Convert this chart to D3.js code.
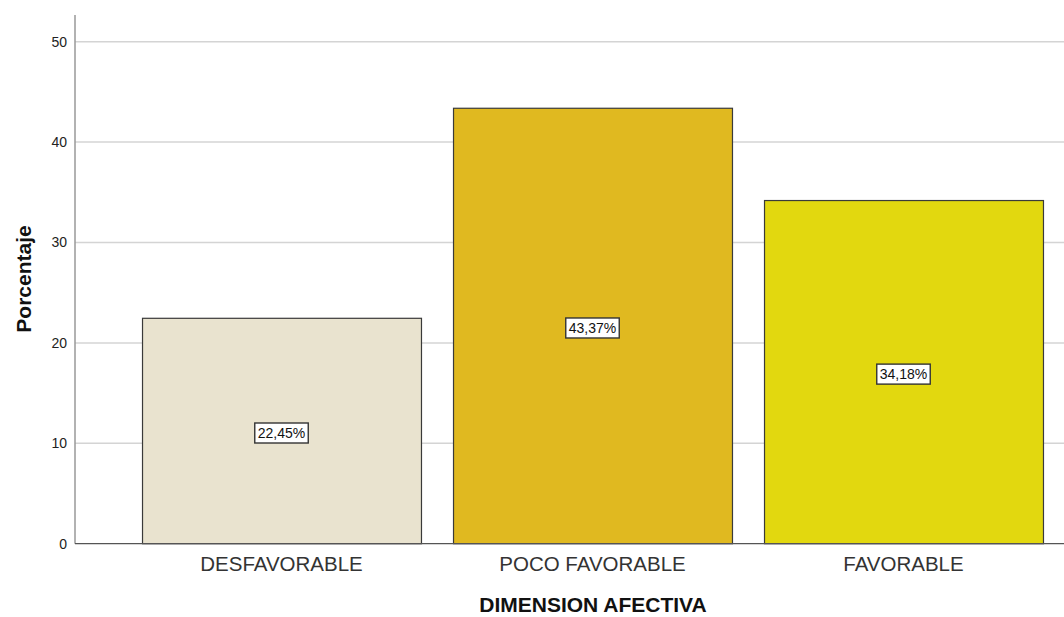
<!DOCTYPE html>
<html>
<head>
<meta charset="utf-8">
<script src="https://cdn.jsdelivr.net/npm/d3@7"></script>
<style>
  html, body { margin: 0; padding: 0; background: #fff; }
  svg { display: block; font-family: "Liberation Sans", Arial, sans-serif; }
</style>
</head>
<body>
<svg id="chart" width="1064" height="617"></svg>
<script>
// Categories and percentages
const categories = ["DESFAVORABLE", "POCO FAVORABLE", "FAVORABLE"];
const percentages = [22.45, 43.37, 34.18];
const barColors = ["#E9E3CF", "#E0B920", "#E2D80F"];
const yTicks = [0, 10, 20, 30, 40, 50];
const xTitle = "DIMENSION AFECTIVA";
const yTitle = "Porcentaje";

const svg = d3.select("#chart");

const x = d3.scaleBand()
  .domain(categories)
  .range([75, 1110])
  .paddingInner(0.103)
  .paddingOuter(0.2155);

const y = d3.scaleLinear()
  .domain([0, 50])
  .range([543.7, 41.7]);

// Horizontal gridlines
svg.append("g")
  .selectAll("line")
  .data(yTicks.filter(d => d > 0))
  .join("line")
  .attr("x1", 75).attr("x2", 1064)
  .attr("y1", d => y(d)).attr("y2", d => y(d))
  .attr("stroke", "#d4d4d4")
  .attr("stroke-width", 1.5);

// Bars
svg.append("g")
  .selectAll("rect")
  .data(categories)
  .join("rect")
  .attr("x", d => x(d) + 0.5)
  .attr("y", (d, i) => y(percentages[i]))
  .attr("width", x.bandwidth())
  .attr("height", (d, i) => y(0) - y(percentages[i]))
  .attr("fill", (d, i) => barColors[i])
  .attr("stroke", "#3a3a3a")
  .attr("stroke-width", 1.2);

// Y axis
const yAxis = d3.axisLeft(y).tickValues(yTicks).tickSize(0).tickPadding(8);
const gy = svg.append("g").attr("transform", "translate(75,0)").call(yAxis);
gy.select(".domain").remove();
gy.selectAll("text")
  .attr("font-size", 14)
  .attr("fill", "#222")
  .attr("font-family", "Liberation Sans, Arial, sans-serif");
svg.append("line")
  .attr("x1", 75).attr("x2", 75)
  .attr("y1", 15).attr("y2", y(0))
  .attr("stroke", "#999").attr("stroke-width", 1.5);

// X axis baseline
svg.append("line")
  .attr("x1", 75).attr("x2", 1064)
  .attr("y1", y(0)).attr("y2", y(0))
  .attr("stroke", "#555").attr("stroke-width", 1.2);

// Category labels
const xAxis = d3.axisBottom(x).tickSize(0).tickPadding(13);
const gx = svg.append("g").attr("transform", `translate(0,${y(0)})`).call(xAxis);
gx.select(".domain").remove();
gx.selectAll("text")
  .attr("font-size", 20.5)
  .attr("fill", "#333")
  .attr("font-family", "Liberation Sans, Arial, sans-serif");

// Value labels inside bars
const labels = svg.append("g")
  .selectAll("g")
  .data(categories)
  .join("g")
  .attr("transform", (d, i) => `translate(${x(d) + x.bandwidth() / 2},${y(percentages[i] / 2)})`);

labels.append("text")
  .attr("text-anchor", "middle")
  .attr("dy", "0.5em")
  .attr("font-size", 14)
  .attr("fill", "#111")
  .text((d, i) => percentages[i].toFixed(2).replace(".", ",") + "%")
  .each(function () {
    const b = this.getBBox();
    d3.select(this.parentNode).insert("rect", "text")
      .attr("x", b.x - 3).attr("y", b.y - 2)
      .attr("width", b.width + 6).attr("height", b.height + 4)
      .attr("fill", "#fff")
      .attr("stroke", "#333")
      .attr("stroke-width", 1.4);
  });

// Axis titles
svg.append("text")
  .attr("x", 593).attr("y", 612)
  .attr("text-anchor", "middle")
  .attr("font-size", 21)
  .attr("font-weight", "bold")
  .attr("fill", "#111")
  .text(xTitle);

svg.append("text")
  .attr("transform", "translate(31,279) rotate(-90)")
  .attr("text-anchor", "middle")
  .attr("font-size", 21)
  .attr("font-weight", "bold")
  .attr("fill", "#111")
  .text(yTitle);
</script>
</body>
</html>
